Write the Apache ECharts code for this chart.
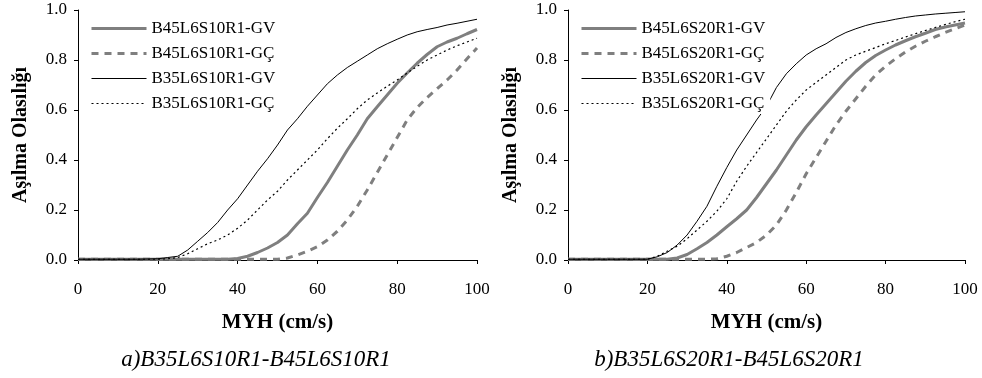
<!DOCTYPE html>
<html>
<head>
<meta charset="utf-8">
<script src="https://cdn.jsdelivr.net/npm/echarts@6/dist/echarts.min.js"></script>
<style>
html,body{margin:0;padding:0;background:#fff;}
#chart{width:982px;height:378px;}
</style>
</head>
<body>
<div id="chart"></div>
<script>
// MYH (cm/s) sample positions shared by all curves
const xValues = [0,5,10,15,20,22.5,25,27.5,30,32.5,35,37.5,40,42.5,45,47.5,50,52.5,55,57.5,60,62.5,65,67.5,70,72.5,75,77.5,80,82.5,85,87.5,90,92.5,95,97.5,100];

// Panel a) series names
const namesA = ['B45L6S10R1-GV','B45L6S10R1-GÇ','B35L6S10R1-GV','B35L6S10R1-GÇ'];
// Panel b) series names
const namesB = ['B45L6S20R1-GV','B45L6S20R1-GÇ','B35L6S20R1-GV','B35L6S20R1-GÇ'];

// Panel a) values (Aşılma Olasılığı)
const a_B45_GV = [0.003,0.003,0.003,0.003,0.003,0.003,0.003,0.003,0.003,0.003,0.003,0.003,0.006,0.015,0.03,0.048,0.07,0.1,0.145,0.187,0.25,0.31,0.375,0.44,0.5,0.565,0.613,0.66,0.707,0.748,0.787,0.822,0.853,0.872,0.887,0.905,0.922];
const a_B45_GC = [0.003,0.003,0.003,0.003,0.003,0.003,0.003,0.003,0.003,0.003,0.003,0.003,0.003,0.003,0.003,0.003,0.003,0.008,0.02,0.035,0.053,0.08,0.115,0.16,0.215,0.28,0.35,0.42,0.49,0.56,0.61,0.65,0.685,0.72,0.76,0.805,0.848];
const a_B35_GV = [0.003,0.003,0.003,0.003,0.005,0.01,0.015,0.04,0.075,0.11,0.15,0.2,0.245,0.3,0.355,0.405,0.46,0.52,0.565,0.615,0.66,0.705,0.74,0.77,0.795,0.82,0.845,0.865,0.883,0.9,0.913,0.922,0.93,0.94,0.947,0.955,0.963];
const a_B35_GC = [0.003,0.003,0.003,0.003,0.003,0.005,0.01,0.025,0.045,0.065,0.08,0.1,0.127,0.16,0.2,0.24,0.275,0.32,0.36,0.4,0.44,0.485,0.527,0.565,0.605,0.64,0.668,0.695,0.72,0.748,0.775,0.8,0.82,0.84,0.857,0.872,0.887];

// Panel b) values
const b_B45_GV = [0.003,0.003,0.003,0.003,0.003,0.003,0.003,0.008,0.022,0.045,0.07,0.1,0.133,0.165,0.2,0.25,0.305,0.36,0.42,0.48,0.533,0.58,0.625,0.67,0.715,0.755,0.79,0.818,0.84,0.86,0.877,0.893,0.907,0.922,0.932,0.94,0.948];
const b_B45_GC = [0.003,0.003,0.003,0.003,0.003,0.003,0.003,0.003,0.003,0.003,0.003,0.005,0.015,0.03,0.05,0.07,0.1,0.14,0.2,0.27,0.345,0.41,0.475,0.54,0.595,0.645,0.695,0.74,0.775,0.805,0.832,0.855,0.875,0.893,0.91,0.925,0.94];
const b_B35_GV = [0.003,0.003,0.003,0.003,0.003,0.013,0.03,0.06,0.1,0.155,0.215,0.295,0.37,0.44,0.5,0.56,0.615,0.69,0.745,0.785,0.82,0.845,0.865,0.89,0.91,0.925,0.938,0.948,0.955,0.963,0.97,0.976,0.98,0.984,0.987,0.99,0.993];
const b_B35_GC = [0.003,0.003,0.003,0.003,0.003,0.015,0.035,0.055,0.085,0.12,0.155,0.195,0.245,0.315,0.375,0.43,0.485,0.54,0.595,0.64,0.68,0.71,0.74,0.77,0.8,0.82,0.835,0.85,0.865,0.878,0.892,0.905,0.918,0.93,0.942,0.953,0.963];

// Axis tick settings
const xTicks = {min:0, max:100, interval:20};
const yTicks = {min:0, max:1, interval:0.2};
const xAxisTitle = 'MYH (cm/s)';
const yAxisTitle = 'Aşılma Olasılığı';
const captions = ['a)B35L6S10R1-B45L6S10R1','b)B35L6S20R1-B45L6S20R1'];

const FONT = '"Liberation Serif","Times New Roman",serif';
const GRAY = '#7f7f7f';

function pair(ys){ return xValues.map((x,i)=>[x, ys[i]]); }

const styles = [
  {color:GRAY, width:3, type:'solid'},
  {color:GRAY, width:3, type:[7,6]},
  {color:'#000', width:1, type:'solid'},
  {color:'#000', width:1.2, type:[2,3]}
];

function makeSeries(names, datas, idx){
  return names.map((n,i)=>({
    name:n, type:'line', xAxisIndex:idx, yAxisIndex:idx,
    data:pair(datas[i]), symbol:'none', smooth:false,
    lineStyle:{color:styles[i].color, width:styles[i].width, type:styles[i].type},
    itemStyle:{color:styles[i].color},
    z: i<2 ? 2 : 3,
    animation:false
  }));
}

function xAxis(idx){
  return {
    type:'value', gridIndex:idx, min:xTicks.min, max:xTicks.max, interval:xTicks.interval,
    name:xAxisTitle, nameLocation:'middle', nameGap:52,
    nameTextStyle:{fontFamily:FONT, fontSize:21, fontWeight:'bold', color:'#000'},
    axisLine:{show:true, lineStyle:{color:'#000', width:1}},
    axisTick:{show:true, inside:false, length:4, lineStyle:{color:'#000'}},
    axisLabel:{fontFamily:FONT, fontSize:17, color:'#000', margin:21},
    splitLine:{show:false}
  };
}
function yAxis(idx){
  return {
    type:'value', gridIndex:idx, min:yTicks.min, max:yTicks.max, interval:yTicks.interval,
    name:yAxisTitle, nameLocation:'middle', nameGap:47, nameRotate:90,
    nameTextStyle:{fontFamily:FONT, fontSize:20, fontWeight:'bold', color:'#000'},
    axisLine:{show:true, lineStyle:{color:'#000', width:1}},
    axisTick:{show:true, inside:false, length:4, lineStyle:{color:'#000'}},
    axisLabel:{fontFamily:FONT, fontSize:17, color:'#000', margin:11, formatter:v=>v.toFixed(1)},
    splitLine:{show:false}
  };
}
function legend(names, left){
  return {
    data:names.map((n,i)=>({name:n, lineStyle:{color:styles[i].color, width:styles[i].width, type:styles[i].type}})),
    orient:'vertical', left:left, top:18, padding:[2,5],
    itemWidth:55, itemHeight:16, itemGap:8,
    backgroundColor:'#fff', selectedMode:false,
    itemStyle:{color:'rgba(0,0,0,0)', borderWidth:0, opacity:0},
    textStyle:{fontFamily:FONT, fontSize:17, color:'#000', lineHeight:17}
  };
}

const chart = echarts.init(document.getElementById('chart'), null, {renderer:'canvas'});
chart.setOption({
  animation:false,
  backgroundColor:'#fff',
  title:[
    {text:captions[0], left:251, top:343, textAlign:'center', textStyle:{fontFamily:FONT, fontSize:23, fontStyle:'italic', fontWeight:'normal', color:'#000'}},
    {text:captions[1], left:724, top:343, textAlign:'center', textStyle:{fontFamily:FONT, fontSize:23, fontStyle:'italic', fontWeight:'normal', color:'#000'}}
  ],
  grid:[
    {left:78, top:10, width:399, height:250},
    {left:568, top:10, width:397, height:250}
  ],
  legend:[legend(namesA, 85), legend(namesB, 575)],
  xAxis:[xAxis(0), xAxis(1)],
  yAxis:[yAxis(0), yAxis(1)],
  series:[].concat(
    makeSeries(namesA, [a_B45_GV, a_B45_GC, a_B35_GV, a_B35_GC], 0),
    makeSeries(namesB, [b_B45_GV, b_B45_GC, b_B35_GV, b_B35_GC], 1)
  )
});
</script>
</body>
</html>
